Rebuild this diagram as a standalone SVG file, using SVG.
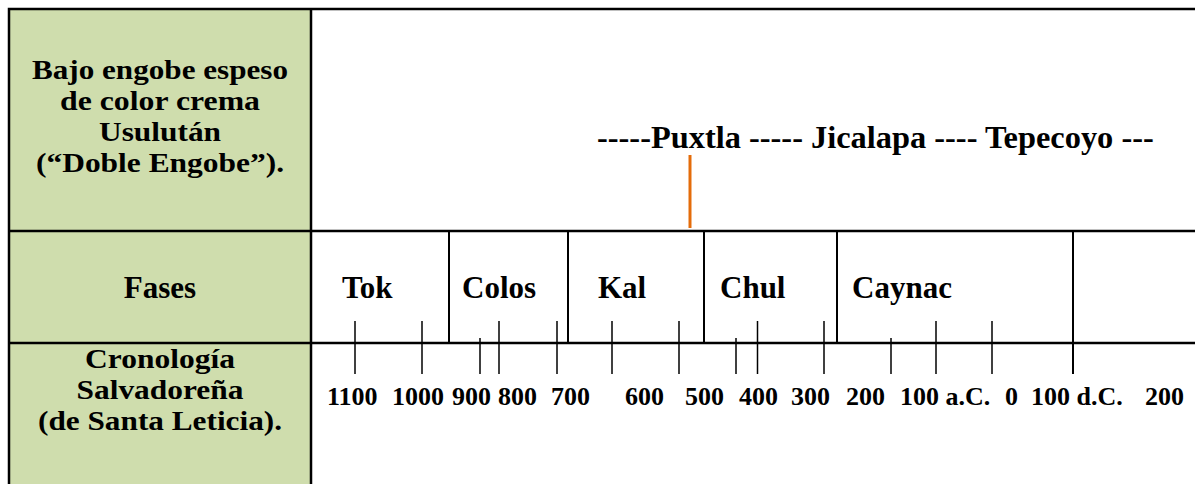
<svg xmlns="http://www.w3.org/2000/svg" width="1195" height="484" viewBox="0 0 1195 484">
  <style>
    .t { font-family: "Liberation Serif", "Times New Roman", serif; font-weight: bold; fill: #000; }
    .lbl { font-size: 31px; text-anchor: middle; }
    .lbs { font-size: 27.5px; text-anchor: middle; }
    .ph { font-size: 31px; }
    .num { font-size: 26px; }
    .pux { font-size: 32.4px; }
    .grid { stroke: #000; stroke-width: 2.5; fill: none; }
    .div { stroke: #000; stroke-width: 2; }
    .tick { stroke: #000; stroke-width: 1.5; }
  </style>
  <rect x="0" y="0" width="1195" height="484" fill="#ffffff"/>
  <g id="table">
    <rect x="9" y="9" width="302" height="480" fill="#CFDDAD"/>
    <path class="grid" d="M9,489 V9 H1195 M311,9 V489 M9,231 H1195 M9,343 H1195"/>
  </g>
  <g id="label-engobe">
    <text class="t lbs" x="160" y="79" textLength="256" lengthAdjust="spacingAndGlyphs">Bajo engobe espeso</text>
    <text class="t lbs" x="160" y="110" textLength="200" lengthAdjust="spacingAndGlyphs">de color crema</text>
    <text class="t lbs" x="160" y="141" textLength="122" lengthAdjust="spacingAndGlyphs">Usulután</text>
    <text class="t lbs" x="160" y="172" textLength="248" lengthAdjust="spacingAndGlyphs">(“Doble Engobe”).</text>
  </g>
  <g id="label-fases">
    <text class="t lbl" x="160" y="298">Fases</text>
  </g>
  <g id="label-cronologia">
    <text class="t lbs" x="160" y="368" textLength="150" lengthAdjust="spacingAndGlyphs">Cronología</text>
    <text class="t lbs" x="160" y="399" textLength="167" lengthAdjust="spacingAndGlyphs">Salvadoreña</text>
    <text class="t lbs" x="160" y="430" textLength="244" lengthAdjust="spacingAndGlyphs">(de Santa Leticia).</text>
  </g>
  <g id="ceramics">
    <text class="t pux" x="597" y="148">-----Puxtla ----- Jicalapa ---- Tepecoyo ---</text>
    <line x1="690" y1="155" x2="690" y2="228" stroke="#E46C0A" stroke-width="3"/>
  </g>
  <g id="phases">
    <text class="t ph" x="342" y="298">Tok</text>
    <text class="t ph" x="462" y="298">Colos</text>
    <text class="t ph" x="598" y="298">Kal</text>
    <text class="t ph" x="720" y="298">Chul</text>
    <text class="t ph" x="852" y="298">Caynac</text>
  </g>
  <g id="connectors">
    <line class="div" x1="449" y1="231" x2="449" y2="343"/>
    <line class="div" x1="568" y1="231" x2="568" y2="343"/>
    <line class="div" x1="704" y1="231" x2="704" y2="343"/>
    <line class="div" x1="837" y1="231" x2="837" y2="343"/>
    <line class="div" x1="1073" y1="231" x2="1073" y2="374"/>
    <line class="tick" x1="355" y1="321" x2="355" y2="374"/>
    <line class="tick" x1="422" y1="321" x2="422" y2="374"/>
    <line class="tick" x1="499" y1="321" x2="499" y2="374"/>
    <line class="tick" x1="557" y1="321" x2="557" y2="374"/>
    <line class="tick" x1="612" y1="321" x2="612" y2="374"/>
    <line class="tick" x1="679" y1="321" x2="679" y2="374"/>
    <line class="tick" x1="757.5" y1="321" x2="757.5" y2="374"/>
    <line class="tick" x1="824" y1="321" x2="824" y2="374"/>
    <line class="tick" x1="936" y1="321" x2="936" y2="374"/>
    <line class="tick" x1="992" y1="321" x2="992" y2="374"/>
    <line class="tick" x1="480" y1="338" x2="480" y2="374"/>
    <line class="tick" x1="736" y1="338" x2="736" y2="374"/>
    <line class="tick" x1="891" y1="338" x2="891" y2="374"/>
  </g>
  <g id="chronology">
    <text class="t num" x="327" y="405">1100</text>
    <text class="t num" x="392" y="405">1000</text>
    <text class="t num" x="452" y="405">900</text>
    <text class="t num" x="498" y="405">800</text>
    <text class="t num" x="551" y="405">700</text>
    <text class="t num" x="625" y="405">600</text>
    <text class="t num" x="685" y="405">500</text>
    <text class="t num" x="739" y="405">400</text>
    <text class="t num" x="791" y="405">300</text>
    <text class="t num" x="846" y="405">200</text>
    <text class="t num" x="900" y="405">100 a.C.</text>
    <text class="t num" x="1005" y="405">0</text>
    <text class="t num" x="1031" y="405">100 d.C.</text>
    <text class="t num" x="1145" y="405">200</text>
  </g>
</svg>
